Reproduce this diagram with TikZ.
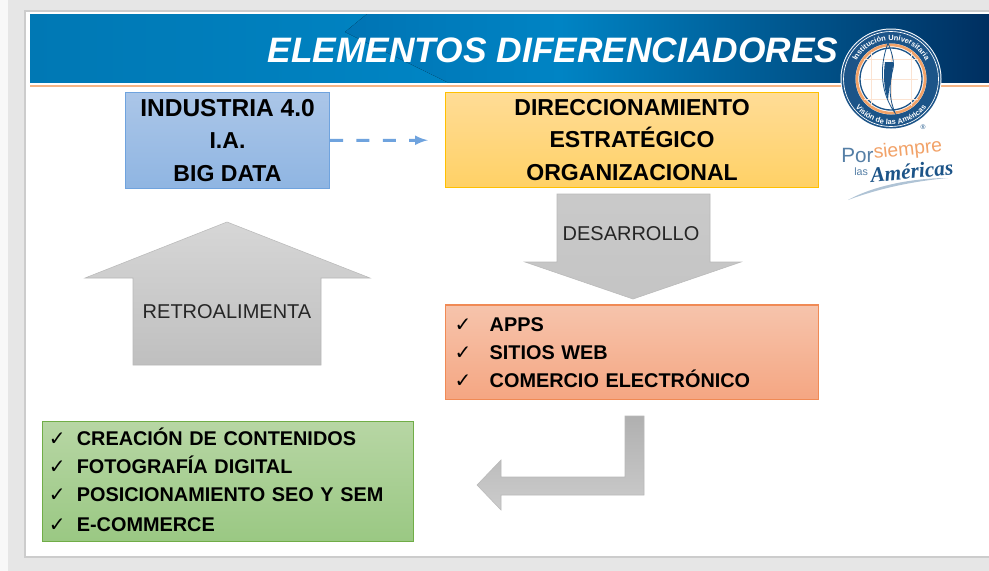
\documentclass[tikz,border=0pt]{standalone}
\usepackage{fontspec}
\usetikzlibrary{arrows,calc,positioning,decorations.text}
\setmainfont{Liberation Sans}
\newfontfamily\checkfont{DejaVu Sans}
\newfontfamily\sloganfont{Liberation Serif}
\newcommand{\listline}[3]{\makebox[#1][l]{\hspace*{#2}\smash{\checkfont\fontsize{15}{15}\selectfont ✓}}#3}
\definecolor{panelgray}{HTML}{E6E6E6}
\definecolor{logonavy}{HTML}{1C5488}
\definecolor{logoorange}{HTML}{F2A268}
\definecolor{bannerleft}{HTML}{0078B4}
\definecolor{bannerlight}{HTML}{0088C8}
\definecolor{bannerfold}{HTML}{0074B4}
\definecolor{bannermid}{HTML}{0084C4}
\definecolor{bannerend}{HTML}{002F60}
\definecolor{b1top}{HTML}{ABC6E8}
\definecolor{b1bot}{HTML}{8FB5E2}
\definecolor{b1line}{HTML}{6FA3DE}
\definecolor{y1top}{HTML}{FFDC96}
\definecolor{y1bot}{HTML}{FFD166}
\definecolor{y1line}{HTML}{FFC000}
\definecolor{o1top}{HTML}{F6C4AC}
\definecolor{o1bot}{HTML}{F5A682}
\definecolor{o1line}{HTML}{F08A55}
\definecolor{g1top}{HTML}{B7D6A4}
\definecolor{g1bot}{HTML}{9AC883}
\definecolor{g1line}{HTML}{70AD47}
\tikzset{
        block/.style = {draw, rectangle, line width=0.9pt, inner sep=0pt,
            font=\bfseries\fontsize{17.3}{24.6}\selectfont, align=center},
        bluebox/.style = {block, draw=b1line, top color=b1top, bottom color=b1bot,
            minimum width=153pt, minimum height=72.5pt},
        yellowbox/.style = {block, draw=y1line, top color=y1top, bottom color=y1bot,
            minimum width=279.5pt, minimum height=71pt},
        orangebox/.style = {block, draw=o1line, top color=o1top, bottom color=o1bot,
            minimum height=71pt, font=\bfseries\fontsize{14.9}{21}\selectfont,
            text width=279.5pt, align=left},
        greenbox/.style = {block, draw=g1line, top color=g1top, bottom color=g1bot,
            minimum height=90pt, font=\bfseries\fontsize{14.9}{21}\selectfont,
            text width=278pt, align=left},
        graybody/.style = {draw=gray!55, line width=0.4pt, top color=gray!32, bottom color=gray!50},
        graylabel/.style = {font=\fontsize{15}{16}\selectfont, text=black!85, inner sep=0pt},
        arrow/.style = {draw=b1line, line width=2.25pt, dash pattern=on 9.75pt off 10pt, -latex, shorten >=13pt},
    }
\begin{document}
\begin{tikzpicture}[x=0.75pt,y=-0.75pt]
    \useasboundingbox (0,0) rectangle (989,571);
    % page and slide
    \fill[panelgray] (0,0) rectangle (989,571);
    \fill[white!70!panelgray] (0,0) rectangle (8,571);
    \fill[white, draw=gray!40, line width=0.8pt] (25,11) rectangle (995,557);

    % banner
    \fill[left color=bannerleft, right color=bannerlight] (30,14) rectangle (560,82);
    \fill[left color=bannerfold, right color=bannermid] (367,14) -- (345,32) -- (447,82) -- (560,82) -- (560,14) -- cycle;
    \fill[left color=bannermid, right color=bannerend] (560,14) rectangle (989,82);
    \draw[logoorange!80, line width=1.5pt] (30,86) -- (989,86);
    \node[text=white, font=\bfseries\itshape\fontsize{26.5}{30}\selectfont, inner sep=0pt] (title) at (553,50)
        {ELEMENTOS DIFERENCIADORES};

    % boxes
    \node[bluebox] (industria) at (227.5,140.5) {{\fontsize{18.4}{24.6}\selectfont INDUSTRIA 4.0}\\I.A.\\BIG DATA};
    \node[yellowbox, right=86.25pt of industria, yshift=0.4pt] (direccion)
        {DIRECCIONAMIENTO\\ESTRATÉGICO\\ORGANIZACIONAL};
    \node[orangebox, below=87.4pt of direccion] (apps)
        {\listline{33pt}{6.75pt}{APPS}\\\listline{33pt}{6.75pt}{SITIOS WEB}\\\listline{33pt}{6.75pt}{COMERCIO ELECTRÓNICO}};
    \node[greenbox, below left=15.5pt and 23.25pt of apps.south west] (contenidos)
        {\listline{25.5pt}{4.5pt}{CREACIÓN DE CONTENIDOS}\\\listline{25.5pt}{4.5pt}{FOTOGRAFÍA DIGITAL}\\\listline{25.5pt}{4.5pt}{POSICIONAMIENTO SEO Y SEM}\\[1.5pt]\listline{25.5pt}{4.5pt}{E-COMMERCE}\vspace{3pt}};

    \draw[arrow] (industria) -- (direccion);

    % block arrows
    \draw[graybody] (227,222) -- (370,278) -- (321,278) -- (321,365) -- (133,365) -- (133,278) -- (85,278) -- cycle;
    \node[graylabel] (retro) at (227,312) {RETROALIMENTA};
    \draw[graybody, top color=gray!42, bottom color=gray!46] (557,194) -- (710,194) -- (710,262) -- (741,262) -- (633,299) -- (525,262) -- (557,262) -- cycle;
    \node[graylabel] (desarrollo) at (631,233.5) {DESARROLLO};
    \draw[graybody, top color=gray!62, bottom color=gray!40] (625,416) -- (644,416) -- (644,495) -- (501,495) -- (501,510) -- (477,485) -- (501,460) -- (501,477) -- (625,477) -- cycle;

    % logo
    \fill[white] (891,79) circle (50.5);
    \fill[logonavy] (891,79) circle (49.5);
    \draw[white, line width=0.5pt] (891,79) circle (47.5);
    \fill[white] (891,79) circle (35.5);
    \draw[logoorange, line width=2pt] (891,79) circle (34);
    \draw[logonavy, line width=1pt] (891,79) circle (31);
    \foreach \gx in {-20,0,20}
        \draw[logoorange!30, line width=0.7pt] (891+\gx,52) -- (891+\gx,106);
    \foreach \gy in {-20,0,20}
        \draw[logoorange!30, line width=0.7pt] (864,79+\gy) -- (918,79+\gy);
    \draw[logonavy, line width=0.6pt] (888,43) .. controls (878,70) and (882,95) .. (895,113)
        .. controls (888,95) and (890,85) .. (892,72) .. controls (895,65) and (893,55) .. (888,43);
    \fill[logonavy] (885,62) -- (893,62) .. controls (893,75) and (889,85) .. (888,100) .. controls (884,90) and (883,75) .. (885,62);
    \path[decorate, decoration={text along path, text align=center,
        text={|\color{white}\bfseries\fontsize{5.6}{6}\selectfont|Institución Universitaria}}]
        (852,79) arc[start angle=180, end angle=360, radius=39];
    \path[decorate, decoration={text along path, text align=center,
        text={|\color{white}\bfseries\fontsize{5.6}{6}\selectfont|Visión de las Américas}}]
        (845.5,79) arc[start angle=180, end angle=0, radius=45.5];
    \node[text=logonavy, font=\fontsize{5}{5}\selectfont, inner sep=0pt] (marca) at (923,127) {®};
    \node[text=logonavy!75, font=\fontsize{15.5}{16}\selectfont, inner sep=0pt, anchor=base west] (por) at (841,162) {Por};
    \node[text=logoorange, font=\fontsize{14.5}{15}\selectfont, inner sep=0pt, anchor=base west, rotate=6] (siempre) at (874,159) {siempre};
    \node[text=logonavy!75, font=\fontsize{8}{8}\selectfont, inner sep=0pt, anchor=base west] (las) at (854,175) {las};
    \node[text=logonavy, font=\sloganfont\bfseries\itshape\fontsize{16}{16}\selectfont, inner sep=0pt, anchor=base west, rotate=6] (americas) at (871,183) {Américas};
    \fill[logonavy!35] (848,200) .. controls (875,185) and (915,178) .. (948,178) .. controls (915,181) and (880,188) .. (848,200) -- cycle;
\end{tikzpicture}
\end{document}
